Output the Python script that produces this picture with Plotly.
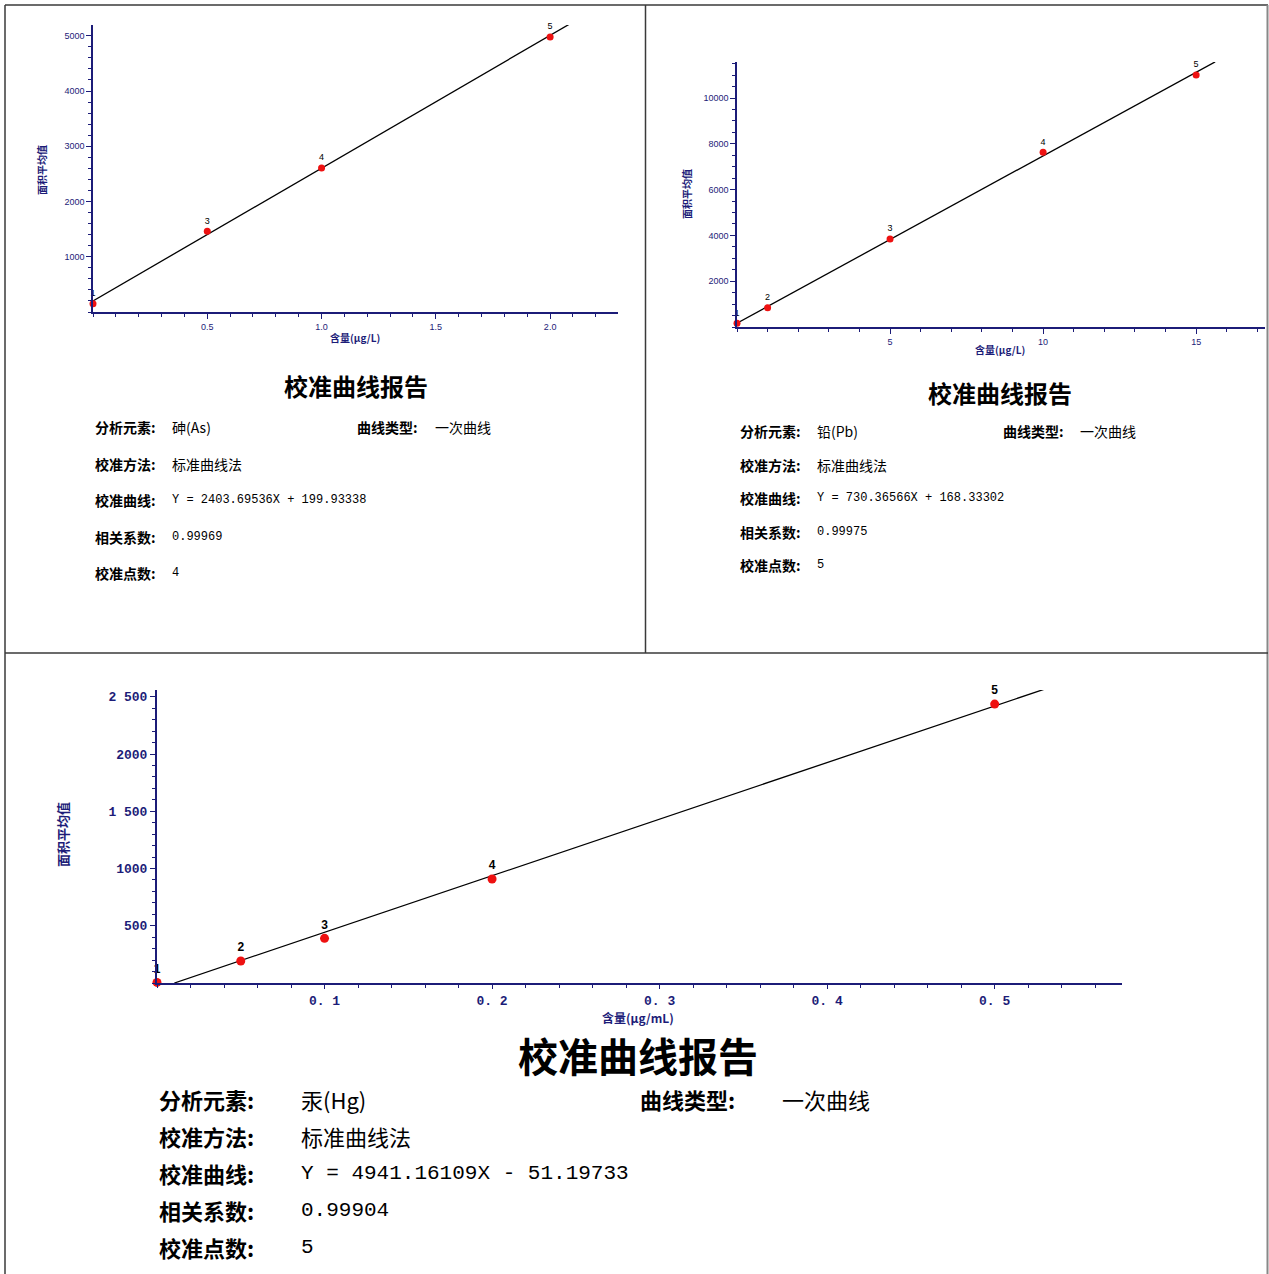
import plotly.graph_objects as go

W, H = 1269, 1274

# ---------------- data ----------------
# Arsenic (top-left)
as_x = [0.0, 0.5, 1.0, 2.0]
as_y = [150, 1460, 2605, 4976]
as_ids = ["1", "3", "4", "5"]
as_slope, as_intercept = 2403.69536, 199.93338
as_fit_x = [0.0, 2.095]
as_xticks = [0.5, 1.0, 1.5, 2.0]
as_xticktext = ["0.5", "1.0", "1.5", "2.0"]
as_yticks = [1000, 2000, 3000, 4000, 5000]

# Lead (top-right)
pb_x = [0, 1, 5, 10, 15]
pb_y = [160, 843, 3843, 7629, 11005]
pb_ids = ["1", "2", "3", "4", "5"]
pb_slope, pb_intercept = 730.36566, 168.33302
pb_fit_x = [0.0, 15.62]
pb_xticks = [5, 10, 15]
pb_yticks = [2000, 4000, 6000, 8000, 10000]

# Mercury (bottom)
hg_x = [0.0, 0.05, 0.1, 0.2, 0.5]
hg_y = [5, 192, 390, 908, 2436]
hg_ids = ["1", "2", "3", "4", "5"]
hg_slope, hg_intercept = 4941.16109, -51.19733
hg_fit_x = [0.01036, 0.531]
hg_xticks = [0.1, 0.2, 0.3, 0.4, 0.5]
hg_xticktext = ["0. 1", "0. 2", "0. 3", "0. 4", "0. 5"]
hg_yticks = [500, 1000, 1500, 2000, 2500]
hg_yticktext = ["500", "1000", "1 500", "2000", "2 500"]

report_title = "校准曲线报告"
row_labels = ["分析元素:", "校准方法:", "校准曲线:", "相关系数:", "校准点数:"]
type_label = "曲线类型:"
type_value = "一次曲线"
method_value = "标准曲线法"
y_title = "面积平均值"

as_values = ["砷(As)", method_value, "Y = 2403.69536X + 199.93338", "0.99969", "4"]
pb_values = ["铅(Pb)", method_value, "Y = 730.36566X + 168.33302", "0.99975", "5"]
hg_values = ["汞(Hg)", method_value, "Y = 4941.16109X - 51.19733", "0.99904", "5"]

# ---------------- helpers ----------------
NAVY = "#1c1c78"
CJK = "Noto Sans CJK SC"
MONO = "Liberation Mono, Noto Sans CJK SC"


def px(x):
    return x / W


def py(y):
    return 1 - y / H


fig = go.Figure()


def add_chart(idx, xs, ys, ids, slope, intercept, fit_x, mk, lbl_size, bold):
    suffix = "" if idx == 1 else str(idx)
    fy = [slope * v + intercept for v in fit_x]
    fig.add_trace(go.Scatter(x=fit_x, y=fy, mode="lines",
                             line=dict(color="black", width=1.3),
                             xaxis="x" + suffix, yaxis="y" + suffix,
                             showlegend=False, hoverinfo="skip"))
    fig.add_trace(go.Scatter(x=xs, y=ys, mode="markers+text", text=ids,
                             textposition="top center",
                             textfont=dict(color="black", size=lbl_size,
                                           family="Liberation Sans",
                                           weight="bold" if bold else "normal"),
                             marker=dict(color="#ee1111", size=mk),
                             xaxis="x" + suffix, yaxis="y" + suffix,
                             showlegend=False, cliponaxis=False))


add_chart(1, as_x, as_y, as_ids, as_slope, as_intercept, as_fit_x, 7, 9, False)
add_chart(2, pb_x, pb_y, pb_ids, pb_slope, pb_intercept, pb_fit_x, 7, 9, False)
add_chart(3, hg_x, hg_y, hg_ids, hg_slope, hg_intercept, hg_fit_x, 9, 12, True)


def axis_style(dom, rng, tickvals, ticktext, minor_dtick, anchor, font, lw):
    return dict(domain=dom, range=rng, anchor=anchor,
                tickmode="array", tickvals=tickvals,
                ticktext=ticktext if ticktext else [str(v) for v in tickvals],
                showline=True, linecolor=NAVY, linewidth=lw,
                ticks="outside", ticklen=5, tickwidth=1.2, tickcolor=NAVY,
                minor=dict(tickmode="linear", tick0=0, dtick=minor_dtick,
                           ticks="outside", ticklen=3, tickcolor=NAVY),
                showgrid=False, zeroline=False, mirror=False,
                tickfont=font, fixedrange=True)


small_font = dict(family="Liberation Sans", size=9, color=NAVY)
big_font = dict(family="Liberation Mono", size=13, color=NAVY, weight="bold")

hg_x_axis = axis_style([px(157), px(1122)], [0, 0.576], hg_xticks, hg_xticktext, 0.02, "y3", big_font, 2)
hg_x_axis["ticklen"] = 4

fig.update_layout(
    xaxis=axis_style([px(93), px(618)], [0, 2.297], as_xticks, as_xticktext, 0.1, "y", small_font, 1.5),
    yaxis=axis_style([py(312), py(25)], [0, 5195], as_yticks, None, 200, "x", small_font, 1.5),
    xaxis2=axis_style([px(737), px(1265)], [0, 17.25], pb_xticks, None, 1, "y2", small_font, 1.5),
    yaxis2=axis_style([py(327), py(62)], [0, 11572], pb_yticks, None, 500, "x2", small_font, 1.5),
    xaxis3=hg_x_axis,
    yaxis3=axis_style([py(983), py(690)], [0, 2559], hg_yticks, hg_yticktext, 100, "x3", big_font, 2),
)

ann = []


def text(x, y, s, size, bold=False, family=CJK, color="black", anchor="left", angle=0):
    ann.append(dict(x=px(x), y=py(y), xref="paper", yref="paper", text=s,
                    showarrow=False, xanchor=anchor, yanchor="middle",
                    textangle=angle,
                    font=dict(family=family, size=size, color=color,
                              weight="bold" if bold else "normal")))


def report(cx, ty, tsize, lx, vx, tx, tvx, rows_y, lsize, vsize, vals, mono_size):
    text(cx, ty, report_title, tsize, bold=True, anchor="center")
    for i, (lab, yy) in enumerate(zip(row_labels, rows_y)):
        text(lx, yy, lab, lsize, bold=True)
        v = vals[i]
        if i >= 2:
            text(vx, yy, v, mono_size, family=MONO)
        else:
            text(vx, yy, v, vsize)
    text(tx, rows_y[0], type_label, lsize, bold=True)
    text(tvx, rows_y[0], type_value, vsize)


# axis titles
text(42, 170, y_title, 10, bold=True, color=NAVY, anchor="center", angle=-90)
text(355, 337, "含量(μg/L)", 10, bold=True, color=NAVY, anchor="center")
text(686, 194, y_title, 10, bold=True, color=NAVY, anchor="center", angle=-90)
text(1000, 349, "含量(μg/L)", 10, bold=True, color=NAVY, anchor="center")
text(62, 835, y_title, 13, bold=True, color=NAVY, anchor="center", angle=-90)
text(638, 1017, "含量(μg/mL)", 12, bold=True, color=NAVY, anchor="center")

report(356, 385, 24, 93, 170, 355, 433, [427, 464, 500, 537, 573], 14, 14, as_values, 12)
report(1000, 392, 24, 738, 815, 1001, 1078, [431, 465, 498, 532, 565], 14, 14, pb_values, 12)
report(638, 1055, 40, 157, 299, 638, 780, [1099, 1136, 1173, 1210, 1247], 22, 22, hg_values, 21)

# frame lines
LC = "#3a3a3a"
shapes = [
    dict(type="line", xref="paper", yref="paper", x0=px(5), x1=px(1268), y0=py(5), y1=py(5), line=dict(color=LC, width=1.5)),
    dict(type="line", xref="paper", yref="paper", x0=px(5), x1=px(5), y0=py(5), y1=py(1274), line=dict(color=LC, width=1.5)),
    dict(type="line", xref="paper", yref="paper", x0=px(1267.5), x1=px(1267.5), y0=py(5), y1=py(1274), line=dict(color="#888888", width=2)),
    dict(type="line", xref="paper", yref="paper", x0=px(645.5), x1=px(645.5), y0=py(5), y1=py(653), line=dict(color=LC, width=1.5)),
    dict(type="line", xref="paper", yref="paper", x0=px(5), x1=px(1268), y0=py(653), y1=py(653), line=dict(color=LC, width=1.5)),
]

fig.update_layout(width=W, height=H, margin=dict(l=0, r=0, t=0, b=0),
                  paper_bgcolor="white", plot_bgcolor="white",
                  annotations=ann, shapes=shapes, showlegend=False)

fig.write_html("out.html", config={"displayModeBar": False},
               post_script="document.body.style.margin='0';document.body.style.overflow='hidden';")
